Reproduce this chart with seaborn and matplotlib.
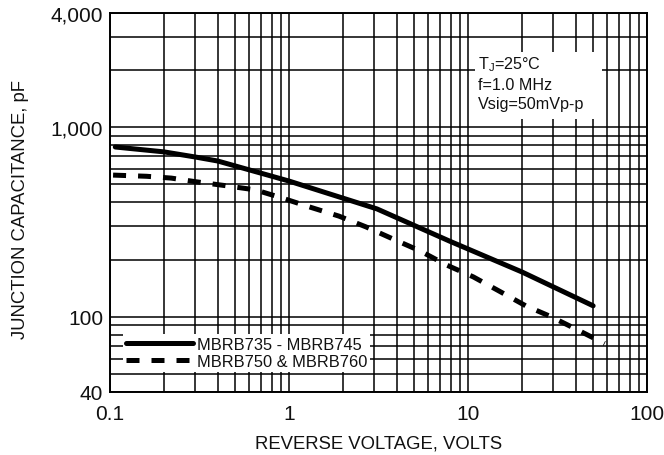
import matplotlib
matplotlib.use("Agg")
import matplotlib.pyplot as plt
import matplotlib.ticker as mticker
from matplotlib.patches import Rectangle
import seaborn as sns
import pandas as pd

# ── Data ──────────────────────────────────────────────────────────────
volts_735 = [0.107, 0.2, 0.3, 0.4, 1.0, 3.1, 7.9, 20, 50]
cap_735 = [785, 740, 695, 662, 519, 370, 250, 172, 114]

volts_750 = [0.104, 0.16, 0.22, 0.3, 0.44, 0.65, 0.91, 1.3, 1.9, 2.7,
             3.8, 5.4, 7.6, 10.7, 15, 21, 29, 40, 58]
cap_750 = [558, 550, 538, 515, 491, 466, 423, 379, 339, 297,
           257, 222, 187, 162, 136, 114, 100, 86, 72]

label_735 = "MBRB735 - MBRB745"
label_750 = "MBRB750 & MBRB760"

x_ticks = [0.1, 1, 10, 100]
x_ticklabels = ["0.1", "1", "10", "100"]
y_ticks = [40, 100, 1000, 4000]
y_ticklabels = ["40", "100", "1,000", "4,000"]

conditions = "T$_\\mathregular{J}$=25°C\nf=1.0 MHz\nVsig=50mVp-p"

sns.set_style("white")
plt.rcParams["font.family"] = ["Liberation Sans", "DejaVu Sans"]

df_a = pd.DataFrame({"volts": volts_735, "cap": cap_735})
df_b = pd.DataFrame({"volts": volts_750, "cap": cap_750})

fig = plt.figure(figsize=(6.64, 4.56), dpi=100)
ax = fig.add_axes([0.1657, 0.1382, 0.8087, 0.8311])

sns.lineplot(data=df_a, x="volts", y="cap", color="black", lw=3.6,
             label=label_735, ax=ax, zorder=3)
sns.lineplot(data=df_b, x="volts", y="cap", color="black", lw=3.6,
             linestyle=(0, (2.6, 2.4)), label=label_750, ax=ax, zorder=3)

ax.set_xscale("log")
ax.set_yscale("log")
ax.set_xlim(0.1, 100)
ax.set_ylim(40, 4000)

ax.xaxis.set_major_locator(mticker.FixedLocator(x_ticks))
ax.xaxis.set_major_formatter(mticker.FixedFormatter(x_ticklabels))
ax.yaxis.set_major_locator(mticker.FixedLocator(y_ticks))
ax.yaxis.set_major_formatter(mticker.FixedFormatter(y_ticklabels))
ax.xaxis.set_minor_locator(mticker.LogLocator(base=10, subs=range(2, 10)))
ax.yaxis.set_minor_locator(mticker.LogLocator(base=10, subs=range(2, 10)))
ax.xaxis.set_minor_formatter(mticker.NullFormatter())
ax.yaxis.set_minor_formatter(mticker.NullFormatter())

ax.tick_params(which="both", length=0)
ax.tick_params(axis="x", labelsize=15, pad=8.5, colors="#111111")
ax.tick_params(axis="y", labelsize=15, pad=5, colors="#111111")

ax.set_axisbelow(True)
ax.grid(which="both", color="black", lw=1.1)
for s in ax.spines.values():
    s.set_color("black")
    s.set_linewidth(1.4)

ax.set_xlabel("REVERSE VOLTAGE, VOLTS", fontsize=13.3, color="#111111")
ax.set_ylabel("JUNCTION CAPACITANCE, pF", fontsize=13.3, color="#111111")
ax.xaxis.set_label_coords(0.5, -0.113)
ax.yaxis.set_label_coords(-0.151, 0.483)

# white box behind the test conditions
ax.add_patch(Rectangle((0.68, 0.72), 0.236, 0.177, transform=ax.transAxes,
                       facecolor="white", edgecolor="none", zorder=2))
ax.text(0.686, 0.89, conditions, transform=ax.transAxes, fontsize=11.6,
        va="top", ha="left", linespacing=1.3, zorder=4, color="#111111")

leg = ax.legend(loc="lower left", bbox_to_anchor=(0.024, 0.053),
                borderaxespad=0, frameon=True, fancybox=False,
                facecolor="white", edgecolor="none", framealpha=1,
                fontsize=11.8, handlelength=4.1, handletextpad=0.2,
                labelspacing=0.1, borderpad=0.2)
for t in leg.get_texts():
    t.set_color("#111111")

fig.savefig("out.png", dpi=100)
plt.close(fig)
